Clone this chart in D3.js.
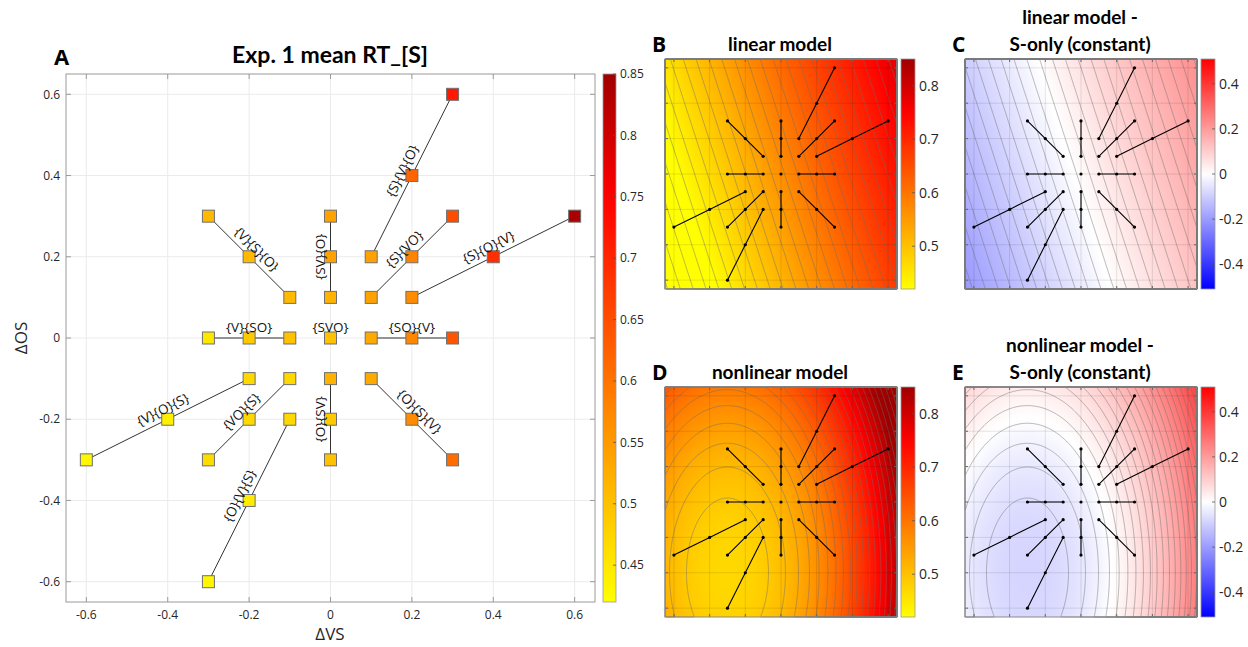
<!DOCTYPE html>
<html>
<head>
<meta charset="utf-8">
<script src="https://cdn.jsdelivr.net/npm/d3@7"></script>
<style>
    body { margin: 0; background: #fff; }
    svg { display: block; }
</style>
</head>
<body>
<div id="chart"></div>
<script>
// ticks
var vsTicks = [-0.6, -0.4, -0.2, 0, 0.2, 0.4, 0.6];
var osTicks = [-0.6, -0.4, -0.2, 0, 0.2, 0.4, 0.6];
var rtBarTicks = [0.45, 0.5, 0.55, 0.6, 0.65, 0.7, 0.75, 0.8, 0.85];
var modelBarTicks = [0.5, 0.6, 0.7, 0.8];
var diffBarTicks = [-0.4, -0.2, 0, 0.2, 0.4];

// conditions: each path goes outward from the centre, 3 steps
var pathLabels = ["{S}{V}{O}", "{S}{VO}", "{S}{O}{V}", "{SV}{O}", "{V}{S}{O}", "{V}{SO}",
                  "{SO}{V}", "{V}{O}{S}", "{VO}{S}", "{O}{V}{S}", "{O}{SV}", "{O}{S}{V}"];
var pathVS = [[0.1, 0.2, 0.3], [0.1, 0.2, 0.3], [0.2, 0.4, 0.6], [0, 0, 0],
              [-0.1, -0.2, -0.3], [-0.1, -0.2, -0.3], [0.1, 0.2, 0.3], [-0.2, -0.4, -0.6],
              [-0.1, -0.2, -0.3], [-0.1, -0.2, -0.3], [0, 0, 0], [0.1, 0.2, 0.3]];
var pathOS = [[0.2, 0.4, 0.6], [0.1, 0.2, 0.3], [0.1, 0.2, 0.3], [0.1, 0.2, 0.3],
              [0.1, 0.2, 0.3], [0, 0, 0], [0, 0, 0], [-0.1, -0.2, -0.3],
              [-0.1, -0.2, -0.3], [-0.2, -0.4, -0.6], [-0.1, -0.2, -0.3], [-0.1, -0.2, -0.3]];
var pathRT = [[0.54, 0.62, 0.72], [0.54, 0.58, 0.65], [0.57, 0.69, 0.84], [0.52, 0.54, 0.54],
              [0.51, 0.51, 0.51], [0.50, 0.49, 0.45], [0.53, 0.575, 0.64], [0.47, 0.44, 0.43],
              [0.47, 0.47, 0.465], [0.47, 0.445, 0.43], [0.52, 0.49, 0.50], [0.53, 0.57, 0.61]];
var centerLabel = "{SVO}";
var centerRT = 0.50;

var linIntercept = 0.565;
var linSlopes = [0.25, 0.08];          // per dVS, per dOS
var nlMin = 0.47;
var nlCenter = [-0.3, -0.4];
var nlCurv = [0.379, 0.112];
var sOnlyConst = 0.555;
var linStep = 0.018, nlStep = 0.02;

var width = 1248, height = 647;
var lim = [-0.65, 0.65];

var svg = d3.select("#chart").append("svg")
    .attr("width", width)
    .attr("height", height)
    .style("font-family", "'Open Sans', sans-serif");
var defs = svg.append("defs");

var rtColor = d3.scaleLinear().domain([0.42, 0.75, 0.85])
    .range(["#ffff00", "#ff0000", "#a00000"]).clamp(true);
var diffColor = d3.scaleLinear().domain([-0.51, 0, 0.51])
    .range(["#0000ff", "#ffffff", "#ff0000"]).clamp(true);

function linModel(vs, os) { return linIntercept + linSlopes[0] * vs + linSlopes[1] * os; }
function nlModel(vs, os) {
    return nlMin + nlCurv[0] * Math.pow(vs - nlCenter[0], 2) + nlCurv[1] * Math.pow(os - nlCenter[1], 2);
}

function colorbar(g, x, y0, y1, w, scale, domain, ticks, fontSize, id) {
    var grad = defs.append("linearGradient").attr("id", id)
        .attr("x1", 0).attr("y1", 1).attr("x2", 0).attr("y2", 0);
    d3.range(0, 1.0001, 0.05).forEach(function (t) {
        grad.append("stop").attr("offset", t)
            .attr("stop-color", scale(domain[0] + t * (domain[1] - domain[0])));
    });
    var cy = d3.scaleLinear().domain(domain).range([y1, y0]);
    g.append("rect").attr("x", x).attr("y", y0).attr("width", w).attr("height", y1 - y0)
        .attr("fill", "url(#" + id + ")").attr("stroke", "#999").attr("stroke-width", 0.8);
    ticks.forEach(function (t) {
        g.append("line").attr("x1", x + w - 3).attr("x2", x + w)
            .attr("y1", cy(t)).attr("y2", cy(t)).attr("stroke", "#555").attr("stroke-width", 0.8);
        g.append("text").attr("x", x + w + 4).attr("y", cy(t)).attr("dy", "0.35em")
            .attr("font-size", fontSize).attr("fill", "#262626").text(String(t));
    });
}

// ---------- Panel A ----------
var ax = d3.scaleLinear().domain(lim).range([66, 595]);
var ay = d3.scaleLinear().domain(lim).range([602, 74]);
var gA = svg.append("g");

vsTicks.forEach(function (t) {
    gA.append("line").attr("x1", ax(t)).attr("x2", ax(t)).attr("y1", 74).attr("y2", 602)
        .attr("stroke", "#ebebeb");
});
osTicks.forEach(function (t) {
    gA.append("line").attr("y1", ay(t)).attr("y2", ay(t)).attr("x1", 66).attr("x2", 595)
        .attr("stroke", "#ebebeb");
});
gA.append("rect").attr("x", 66).attr("y", 74).attr("width", 529).attr("height", 528)
    .attr("fill", "none").attr("stroke", "#9a9a9a");
vsTicks.forEach(function (t) {
    gA.append("line").attr("x1", ax(t)).attr("x2", ax(t)).attr("y1", 602).attr("y2", 597).attr("stroke", "#9a9a9a");
    gA.append("line").attr("x1", ax(t)).attr("x2", ax(t)).attr("y1", 74).attr("y2", 79).attr("stroke", "#9a9a9a");
    gA.append("text").attr("x", ax(t)).attr("y", 619).attr("text-anchor", "middle")
        .attr("font-size", 12).attr("fill", "#262626").text(String(t));
});
osTicks.forEach(function (t) {
    gA.append("line").attr("y1", ay(t)).attr("y2", ay(t)).attr("x1", 66).attr("x2", 71).attr("stroke", "#9a9a9a");
    gA.append("line").attr("y1", ay(t)).attr("y2", ay(t)).attr("x1", 595).attr("x2", 590).attr("stroke", "#9a9a9a");
    gA.append("text").attr("x", 60).attr("y", ay(t)).attr("dy", "0.35em").attr("text-anchor", "end")
        .attr("font-size", 12).attr("fill", "#262626").text(String(t));
});

gA.append("text").attr("x", 330).attr("y", 640).attr("text-anchor", "middle")
    .attr("font-size", 17).attr("fill", "#262626").text("\u0394VS");
gA.append("text").attr("transform", "translate(27,338) rotate(-90)").attr("text-anchor", "middle")
    .attr("font-size", 17).attr("fill", "#262626").text("\u0394OS");
gA.append("text").attr("x", 330).attr("y", 63).attr("text-anchor", "middle")
    .attr("font-family", "Lato, sans-serif").attr("font-weight", "bold").attr("font-size", 23)
    .text("Exp. 1 mean RT_[S]");
gA.append("text").attr("x", 54).attr("y", 65)
    .attr("font-family", "'Open Sans', sans-serif").attr("font-weight", "bold").attr("font-size", 22)
    .text("A");

// lines
var lineGen = d3.line().x(function (d) { return d[0]; }).y(function (d) { return d[1]; });
pathLabels.forEach(function (lab, i) {
    var pts = pathVS[i].map(function (v, k) { return [ax(v), ay(pathOS[i][k])]; });
    gA.append("path").attr("d", lineGen(pts)).attr("fill", "none")
        .attr("stroke", "#333").attr("stroke-width", 1);
});
// squares
var sq = 12;
pathLabels.forEach(function (lab, i) {
    pathVS[i].forEach(function (v, k) {
        gA.append("rect").attr("x", ax(v) - sq / 2).attr("y", ay(pathOS[i][k]) - sq / 2)
            .attr("width", sq).attr("height", sq)
            .attr("fill", rtColor(pathRT[i][k])).attr("stroke", "#707070").attr("stroke-width", 1);
    });
});
gA.append("rect").attr("x", ax(0) - sq / 2).attr("y", ay(0) - sq / 2)
    .attr("width", sq).attr("height", sq)
    .attr("fill", rtColor(centerRT)).attr("stroke", "#707070");

// labels along lines
pathLabels.forEach(function (lab, i) {
    var x1 = ax(pathVS[i][0]), y1 = ay(pathOS[i][0]);
    var x2 = ax(pathVS[i][2]), y2 = ay(pathOS[i][2]);
    var ang = Math.atan2(y2 - y1, x2 - x1) * 180 / Math.PI;
    if (ang > 89.9) ang -= 180;
    if (ang < -90.1) ang += 180;
    gA.append("text")
        .attr("transform", "translate(" + ax(pathVS[i][1]) + "," + ay(pathOS[i][1]) + ") rotate(" + ang + ")")
        .attr("y", -6).attr("text-anchor", "middle").attr("font-size", 13.5).attr("fill", "#111")
        .text(lab);
});
gA.append("text").attr("x", ax(0)).attr("y", ay(0) - 6).attr("text-anchor", "middle")
    .attr("font-size", 13.5).attr("fill", "#111").text(centerLabel);

colorbar(gA, 603, 74, 602, 13, rtColor, [0.42, 0.85], rtBarTicks, 12, "gradA");

// ---------- Panels B-E ----------
var panels = [
    { letter: "B", x: 665, y: 59, title: ["linear model"], f: linModel, diff: false,
      levels: d3.range(0.3, 1.1, linStep) },
    { letter: "C", x: 965, y: 59, title: ["linear model -", "S-only (constant)"],
      f: function (a, b) { return linModel(a, b) - sOnlyConst; }, diff: true,
      levels: d3.range(-0.5, 0.6, linStep) },
    { letter: "D", x: 665, y: 387, title: ["nonlinear model"], f: nlModel, diff: false,
      levels: d3.range(nlMin + nlStep, 1.2, nlStep) },
    { letter: "E", x: 965, y: 387, title: ["nonlinear model -", "S-only (constant)"],
      f: function (a, b) { return nlModel(a, b) - sOnlyConst; }, diff: true,
      levels: d3.range(nlMin - sOnlyConst + nlStep, 0.7, nlStep) }
];
var pw = 232, ph = 230;

panels.forEach(function (p) {
    var g = svg.append("g").attr("transform", "translate(" + p.x + "," + p.y + ")");
    var hx = d3.scaleLinear().domain(lim).range([0, pw]);
    var hy = d3.scaleLinear().domain(lim).range([ph, 0]);
    var color = p.diff ? diffColor : rtColor;

    var values = new Array(pw * ph);
    var canvas = document.createElement("canvas");
    canvas.width = pw; canvas.height = ph;
    var ctx = canvas.getContext("2d");
    var img = ctx.createImageData(pw, ph);
    for (var j = 0; j < ph; j++) {
        for (var i = 0; i < pw; i++) {
            var v = p.f(hx.invert(i + 0.5), hy.invert(j + 0.5));
            values[j * pw + i] = v;
            var c = d3.rgb(color(v));
            var o = 4 * (j * pw + i);
            img.data[o] = c.r; img.data[o + 1] = c.g; img.data[o + 2] = c.b; img.data[o + 3] = 255;
        }
    }
    ctx.putImageData(img, 0, 0);
    g.append("image").attr("width", pw).attr("height", ph).attr("href", canvas.toDataURL());

    var contours = d3.contours().size([pw, ph]).thresholds(p.levels)(values);
    g.append("g").selectAll("path").data(contours).enter().append("path")
        .attr("d", d3.geoPath())
        .attr("fill", "none").attr("stroke", "#6f6f6f").attr("stroke-opacity", 0.7)
        .attr("stroke-width", 0.7);

    vsTicks.forEach(function (t) {
        g.append("line").attr("x1", hx(t)).attr("x2", hx(t)).attr("y1", 0).attr("y2", ph)
            .attr("stroke", "#000").attr("stroke-opacity", 0.1);
        g.append("line").attr("x1", hx(t)).attr("x2", hx(t)).attr("y1", 0).attr("y2", 3).attr("stroke", "#666");
        g.append("line").attr("x1", hx(t)).attr("x2", hx(t)).attr("y1", ph).attr("y2", ph - 3).attr("stroke", "#666");
    });
    osTicks.forEach(function (t) {
        g.append("line").attr("y1", hy(t)).attr("y2", hy(t)).attr("x1", 0).attr("x2", pw)
            .attr("stroke", "#000").attr("stroke-opacity", 0.1);
        g.append("line").attr("y1", hy(t)).attr("y2", hy(t)).attr("x1", 0).attr("x2", 3).attr("stroke", "#666");
        g.append("line").attr("y1", hy(t)).attr("y2", hy(t)).attr("x1", pw).attr("x2", pw - 3).attr("stroke", "#666");
    });

    pathLabels.forEach(function (lab, i) {
        var pts = pathVS[i].map(function (v, k) { return [hx(v), hy(pathOS[i][k])]; });
        g.append("path").attr("d", lineGen(pts)).attr("fill", "none")
            .attr("stroke", "#000").attr("stroke-width", 1.1);
        pts.forEach(function (q) {
            g.append("circle").attr("cx", q[0]).attr("cy", q[1]).attr("r", 1.6).attr("fill", "#000");
        });
    });
    g.append("circle").attr("cx", hx(0)).attr("cy", hy(0)).attr("r", 1.6).attr("fill", "#000");

    g.append("rect").attr("width", pw).attr("height", ph).attr("fill", "none")
        .attr("stroke", "#8a8a8a").attr("stroke-width", 1);

    // titles
    var n = p.title.length;
    p.title.forEach(function (t, k) {
        g.append("text").attr("x", pw / 2 - 1).attr("y", -8 - (n - 1 - k) * 27)
            .attr("text-anchor", "middle").attr("font-family", "Lato, sans-serif")
            .attr("font-weight", "bold").attr("font-size", 19).text(t);
    });
    g.append("text").attr("x", -13).attr("y", -7).attr("font-weight", "bold")
        .attr("font-size", 21).text(p.letter);

    colorbar(g, pw + 4, 0, ph, 14, color, p.diff ? [-0.51, 0.51] : [0.42, 0.85],
        p.diff ? diffBarTicks : modelBarTicks, 14, "grad" + p.letter);
});
</script>
</body>
</html>
